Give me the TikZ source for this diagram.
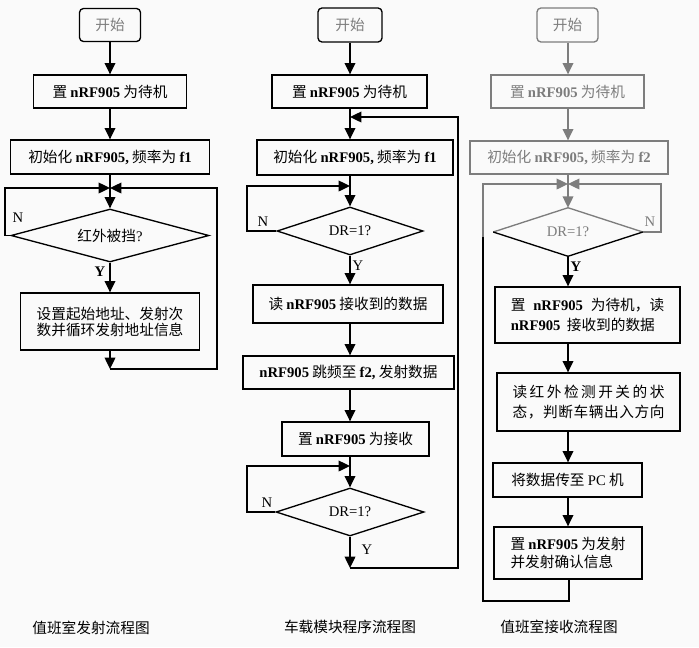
\documentclass[tikz,border=0pt]{standalone}
\usepackage{fontspec}
\setmainfont{Noto Sans CJK SC}
\newfontfamily\latf{Liberation Serif}
\newcommand\la[1]{{\latf #1}}
\newcommand\lb[1]{{\latf\bfseries #1}}
\usetikzlibrary{arrows.meta,shapes.geometric,calc}
\definecolor{bg}{RGB}{250,250,250}
\definecolor{gr}{RGB}{125,125,125}
\begin{document}
\begin{tikzpicture}[x=0.75pt,y=-0.75pt,
 font=\fontsize{11}{14}\selectfont,
 box/.style={draw, line width=1pt, inner sep=0pt, align=center},
 bw/.style={minimum width=#1*0.75pt},
 bh/.style={minimum height=#1*0.75pt},
 startbox/.style={box, rounded corners=3pt, text=gr},
 dec/.style={diamond, aspect=3, inner sep=0pt},
 arr/.style={line width=1pt, -{Triangle[width=8pt,length=8.5pt]}},
 ln/.style={line width=1pt},
 lab/.style={inner sep=0pt, font=\fontsize{11}{13}\selectfont\latf}
]
\useasboundingbox[fill=bg] (0,0) rectangle (699,647);
\coordinate (lc) at (110,0);
\coordinate (mc) at (350,0);
\coordinate (rc) at (568,0);

% ---------------- left column ----------------
\node[startbox,bw=61,bh=33] (L0) at (110,25) {开始};
\node[box,bw=153,bh=33] (L1) at (110,91.5) {置 \lb{nRF905} 为待机};
\node[box,bw=199,bh=34] (L2) at (110,157) {初始化 \lb{nRF905,} 频率为 \lb{f1}};
\coordinate (JL) at (110,188);
\node[dec,draw,line width=1pt,bw=198,bh=53] (L3) at (110,235.5) {红外被挡\la{?}};
\node[box,bw=179,bh=57,align=left,font=\fontsize{11}{12}\selectfont] (L4) at (110,321.5) {设置起始地址、发射次\\数并循环发射地址信息};
\coordinate (LB) at (110,369);
\coordinate (LR1) at (217,369);
\coordinate (LR2) at (217,188);
\coordinate (LN1) at (5,235.5);
\coordinate (LN2) at (5,188);
\node[lab] (nL) at (18,218) {N};
\node[lab,font=\fontsize{11}{13}\selectfont\latf\bfseries] (yL) at (100,272) {Y};
\node[inner sep=0pt] (capL) at (91,628) {值班室发射流程图};

\draw[arr] (L0.south) -- (L1.north);
\draw[arr] (L1.south) -- (L2.north);
\draw[ln] (L2.south) -- (JL);
\draw[arr] (JL) -- (L3.north);
\draw[arr] (L3.south) -- (L4.north);
\draw[arr] (L4.south) -- (LB);
\draw[arr] (LB) -- (LR1) -- (LR2) -- (JL);
\draw[arr] (L3.west) -- (LN1) -- (LN2) -- (JL);

% ---------------- middle column ----------------
\node[startbox,bw=64,bh=34] (M0) at (350,25) {开始};
\node[box,bw=155,bh=33] (M1) at (349.5,91.5) {置 \lb{nRF905} 为待机};
\coordinate (JM1) at (350,117);
\node[box,bw=196,bh=35] (M2) at (355,157.5) {初始化 \lb{nRF905,} 频率为 \lb{f1}};
\coordinate (JM2) at (350,186);
\node[dec,draw,line width=1pt,bw=146,bh=48] (M3) at (350,231) {\la{DR=1?}};
\node[box,bw=190,bh=38] (M4) at (348,304) {读 \lb{nRF905} 接收到的数据};
\node[box,bw=211,bh=33] (M5) at (348.5,372.5) {\lb{nRF905} 跳频至 \lb{f2,} 发射数据};
\node[box,bw=147,bh=34] (M6) at (355.5,439) {置 \lb{nRF905} 为接收};
\coordinate (JM3) at (350,466);
\node[dec,draw,line width=1pt,bw=148,bh=48] (M7) at (350,512) {\la{DR=1?}};
\coordinate (MB) at (350,568);
\coordinate (MR1) at (458,568);
\coordinate (MR2) at (458,117);
\coordinate (MN1) at (247,231);
\coordinate (MN2) at (247,186);
\coordinate (MN3) at (247,512);
\coordinate (MN4) at (247,466);
\node[lab] (nM1) at (263,222) {N};
\node[lab] (yM1) at (358,266) {Y};
\node[lab] (nM2) at (267,503) {N};
\node[lab] (yM2) at (367,550) {Y};
\node[inner sep=0pt] (capM) at (350,627) {车载模块程序流程图};

\draw[arr] (M0.south) -- (M1.north -| mc);
\draw[ln] (M1.south -| mc) -- (JM1);
\draw[arr] (JM1) -- (M2.north -| mc);
\draw[ln] (M2.south -| mc) -- (JM2);
\draw[arr] (JM2) -- (M3.north);
\draw[arr] (M3.south) -- (M4.north -| mc);
\draw[arr] (M4.south -| mc) -- (M5.north -| mc);
\draw[arr] (M5.south -| mc) -- (M6.north -| mc);
\draw[ln] (M6.south -| mc) -- (JM3);
\draw[arr] (JM3) -- (M7.north);
\draw[arr] (M7.south) -- (MB);
\draw[arr] (MB) -- (MR1) -- (MR2) -- (JM1);
\draw[arr] (M3.west) -- (MN1) -- (MN2) -- (JM2);
\draw[arr] (M7.west) -- (MN3) -- (MN4) -- (JM3);

% ---------------- right column ----------------
\node[startbox,draw=gr,bw=61,bh=34] (R0) at (567.5,25) {开始};
\node[box,draw=gr,text=gr,bw=153,bh=33] (R1) at (567.5,91.5) {置 \lb{nRF905} 为待机};
\node[box,draw=gr,text=gr,bw=198,bh=33] (R2) at (569,157.5) {初始化 \lb{nRF905,} 频率为 \lb{f2}};
\coordinate (JR) at (568,184);
\node[dec,bw=149,bh=48,text=gr] (R3) at (568,232) {\la{DR=1?}};
\draw[ln,gr] (R3.west) -- (R3.north) -- (R3.east);
\draw[ln] (R3.west) -- (R3.south) -- (R3.east);
\node[box,bw=185,bh=56,align=left,font=\fontsize{11}{15.5}\selectfont] (R4) at (587.5,315)
 {\makebox[115pt][s]{置 \lb{nRF905} 为待机，读}\\\makebox[108pt][s]{\lb{nRF905} 接收到的数据}};
\node[box,bw=183,bh=58,align=left,font=\fontsize{11}{14.5}\selectfont] (R5) at (588.5,402)
 {\makebox[114pt]{读\hfill 红\hfill 外\hfill 检\hfill 测\hfill 开\hfill 关\hfill 的\hfill 状}\\\makebox[114pt]{态\hfill ，\hfill 判\hfill 断\hfill 车\hfill 辆\hfill 出\hfill 入\hfill 方\hfill 向}};
\node[box,bw=149,bh=34] (R6) at (567.5,480) {将数据传至 \la{PC} 机};
\node[box,bw=148,bh=52,align=left,font=\fontsize{11}{13}\selectfont] (R7) at (568,553) {置 \lb{nRF905} 为发射\\并发射确认信息};
\coordinate (RB1) at (569,601);
\coordinate (RB2) at (483,601);
\coordinate (RB3) at (483,237);
\coordinate (RB4) at (483,184);
\coordinate (RN1) at (661,232);
\coordinate (RN2) at (661,184);
\node[lab,text=gr] (nR) at (650,222) {N};
\node[lab,font=\fontsize{11}{13}\selectfont\latf\bfseries] (yR) at (576,267) {Y};
\node[inner sep=0pt] (capR) at (559,627) {值班室接收流程图};

\draw[arr,gr] (R0.south -| rc) -- (R1.north -| rc);
\draw[arr,gr] (R1.south -| rc) -- (R2.north -| rc);
\draw[ln,gr] (R2.south -| rc) -- (JR);
\draw[arr,gr] (JR) -- (R3.north);
\draw[arr] (R3.south) -- (R4.north -| rc);
\draw[arr] (R4.south -| rc) -- (R5.north -| rc);
\draw[arr] (R5.south -| rc) -- (R6.north -| rc);
\draw[arr] (R6.south -| rc) -- (R7.north -| rc);
\draw[ln] (R7.south -| RB1) -- (RB1) -- (RB2) -- (RB3);
\draw[arr,gr] (RB3) -- (RB4) -- (JR);
\draw[arr,gr] (R3.east) -- (RN1) -- (RN2) -- (JR);
\end{tikzpicture}
\end{document}
